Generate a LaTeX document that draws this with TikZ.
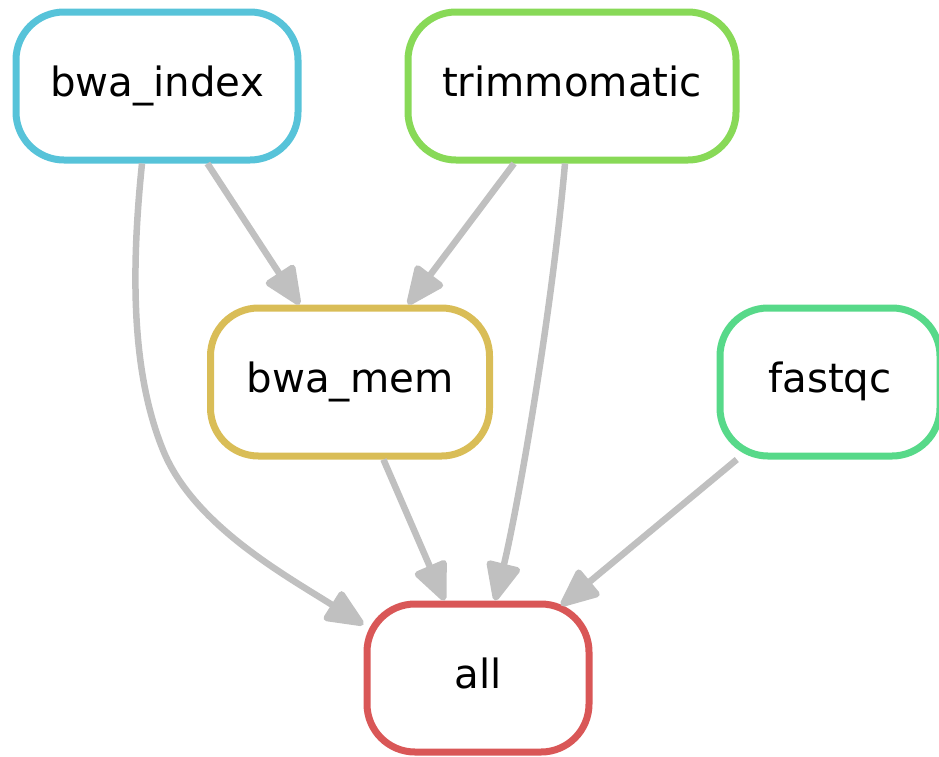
\documentclass[tikz,border=0pt]{standalone}
\usepackage{fontspec}
\setmainfont{DejaVu Sans}
\usetikzlibrary{arrows.meta}
\begin{document}
\begin{tikzpicture}[x=1pt,y=-1pt,
	job/.style={draw,line width=7pt,rounded corners=48pt,minimum height=148pt,
		inner sep=0pt,font=\fontsize{40.3}{48}\selectfont,
		text height=30pt,text depth=10pt},
	dep/.style={draw=depgray,line width=6.5pt,-{Triangle[length=43pt,width=36pt,round]}}]

\definecolor{depgray}{RGB}{192,192,192}
\definecolor{indexblue}{RGB}{87,195,217}
\definecolor{trimgreen}{RGB}{136,217,87}
\definecolor{memyellow}{RGB}{217,189,87}
\definecolor{qcgreen}{RGB}{87,217,137}
\definecolor{allred}{RGB}{217,87,87}

\useasboundingbox (0,0) rectangle (939,756);

\node[job,draw=indexblue,minimum width=282pt] (bwa_index)   at (157,86)  {bwa\_index};
\node[job,draw=trimgreen,minimum width=328pt] (trimmomatic) at (572,86)  {trimmomatic};
\node[job,draw=memyellow,minimum width=279pt] (bwa_mem)     at (350,382) {bwa\_mem};
\node[job,draw=qcgreen,  minimum width=220pt] (fastqc)      at (830,382) {fastqc};
\node[job,draw=allred,   minimum width=222pt] (all)         at (478,678) {all};

\coordinate (detour) at (163,450);

\draw[dep] (bwa_index) -- (bwa_mem);
\draw[dep] (trimmomatic) -- (bwa_mem);
\draw[dep] (bwa_mem) -- (all);
\draw[dep] (fastqc) -- ([xshift=83pt,yshift=-5pt]all.north);
\draw[dep] ([xshift=-7pt]trimmomatic.south) .. controls (550,330) and (515,520) .. ([xshift=17pt]all.north);
\draw[dep] ([xshift=-15pt]bwa_index.south) .. controls (130,280) and (133,376) .. (detour)
	.. controls (193,524) and (283,574) .. (all.155);

\end{tikzpicture}
\end{document}
